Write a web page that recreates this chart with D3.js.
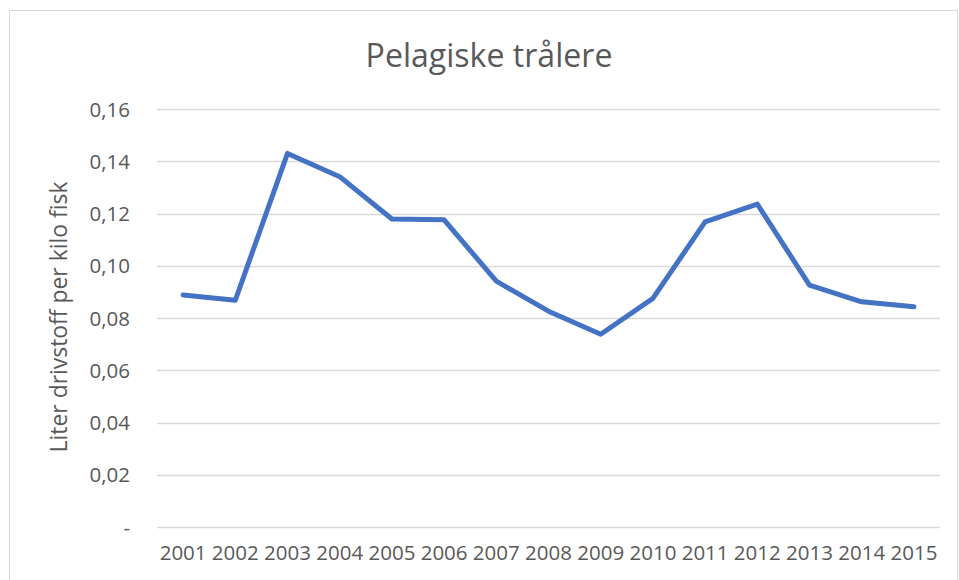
<!DOCTYPE html>
<html>
<head>
<meta charset="utf-8">
<script src="https://cdn.jsdelivr.net/npm/d3@7"></script>
<style>
    body { margin: 0; background: #fff; }
    text { font-family: "Open Sans", sans-serif; fill: #595959; }
</style>
</head>
<body>
<div id="chart"></div>
<script>
var years = ["2001", "2002", "2003", "2004", "2005", "2006", "2007", "2008",
    "2009", "2010", "2011", "2012", "2013", "2014", "2015"];
var values = [0.0888, 0.0868, 0.1430, 0.1341, 0.1179, 0.1176, 0.0941, 0.0826,
    0.0738, 0.0875, 0.1168, 0.1236, 0.0926, 0.0862, 0.0843];
var yTicks = [0, 0.02, 0.04, 0.06, 0.08, 0.10, 0.12, 0.14, 0.16];

var width = 959, height = 580;
var plot = {left: 157, right: 940, top: 109, bottom: 527};

var svg = d3.select("#chart").append("svg")
    .attr("width", width)
    .attr("height", height);

// chart frame
svg.append("rect")
    .attr("x", 9.5)
    .attr("y", 10.5)
    .attr("width", 948)
    .attr("height", 600)
    .attr("fill", "none")
    .attr("stroke", "#d9d9d9")
    .attr("stroke-width", 1);

var x = d3.scaleBand()
    .domain(years)
    .range([plot.left, plot.right]);

var y = d3.scaleLinear()
    .domain([0, 0.16])
    .range([plot.bottom, plot.top]);

// fit a text element to a target width by adjusting font size
function fitWidth(sel, target) {
    var node = sel.node();
    var size = parseFloat(sel.attr("font-size"));
    var w = node.getComputedTextLength();
    sel.attr("font-size", (size * target / w).toFixed(2));
}

// gridlines
svg.append("g")
    .attr("class", "grid")
    .selectAll("line")
    .data(yTicks)
    .enter()
    .append("line")
    .attr("x1", plot.left)
    .attr("x2", plot.right)
    .attr("y1", function (d) { return Math.round(y(d)) + 0.5; })
    .attr("y2", function (d) { return Math.round(y(d)) + 0.5; })
    .attr("stroke", "#d9d9d9")
    .attr("stroke-width", 1.5);

// y axis labels
var fmt = function (d) {
    if (d === 0) return "-";
    return d3.format(".2f")(d).replace(".", ",");
};

var yAxis = d3.axisLeft(y)
    .tickValues(yTicks)
    .tickFormat(fmt)
    .tickSize(0)
    .tickPadding(0);

var yg = svg.append("g")
    .attr("transform", "translate(130,0)")
    .call(yAxis);
yg.select(".domain").remove();
yg.selectAll("text")
    .attr("font-size", 20.5)
    .attr("font-family", "Open Sans, sans-serif")
    .attr("fill", "#595959")
    .attr("dy", "0.35em");

// x axis labels
var xAxis = d3.axisBottom(x)
    .tickSize(0)
    .tickPadding(0);

var xg = svg.append("g")
    .attr("transform", "translate(0,553)")
    .call(xAxis);
xg.select(".domain").remove();
xg.selectAll("text")
    .attr("font-size", 20.5)
    .attr("font-family", "Open Sans, sans-serif")
    .attr("fill", "#595959")
    .attr("dy", "0.35em");

// the line
var line = d3.line()
    .x(function (d, i) { return x(years[i]) + x.bandwidth() / 2; })
    .y(function (d) { return y(d); });

svg.append("path")
    .datum(values)
    .attr("d", line)
    .attr("fill", "none")
    .attr("stroke", "#4472c4")
    .attr("stroke-width", 5)
    .attr("stroke-linejoin", "round")
    .attr("stroke-linecap", "round");

// title
var title = svg.append("text")
    .attr("x", 489)
    .attr("y", 67)
    .attr("text-anchor", "middle")
    .attr("font-size", 30)
    .text("Pelagiske trålere");
fitWidth(title, 247);

// y axis title
var yTitle = svg.append("text")
    .attr("transform", "translate(67,317) rotate(-90)")
    .attr("text-anchor", "middle")
    .attr("font-size", 20)
    .text("Liter drivstoff per kilo fisk");
fitWidth(yTitle, 271);
</script>
</body>
</html>
